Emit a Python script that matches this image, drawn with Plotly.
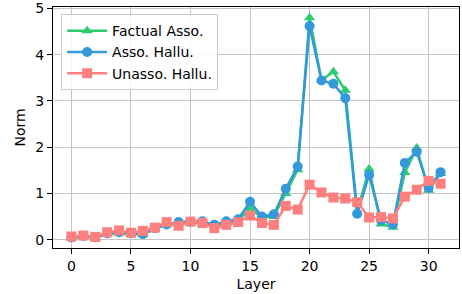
import plotly.graph_objects as go

layers = list(range(32))

factual_asso = [0.04, 0.07, 0.04, 0.13, 0.14, 0.13, 0.11, 0.24, 0.32, 0.35,
                0.37, 0.35, 0.30, 0.36, 0.40, 0.68, 0.48, 0.50, 1.00, 1.51,
                4.80, 3.45, 3.63, 3.23, 0.60, 1.53, 0.34, 0.27, 1.45, 1.98,
                1.07, 1.43]
asso_hallu = [0.05, 0.08, 0.05, 0.14, 0.16, 0.14, 0.12, 0.25, 0.33, 0.38,
              0.39, 0.40, 0.32, 0.40, 0.44, 0.82, 0.50, 0.55, 1.10, 1.58,
              4.62, 3.44, 3.37, 3.06, 0.56, 1.40, 0.42, 0.33, 1.66, 1.90,
              1.12, 1.46]
unasso_hallu = [0.07, 0.09, 0.06, 0.16, 0.20, 0.15, 0.19, 0.26, 0.38, 0.30,
                0.39, 0.36, 0.25, 0.32, 0.38, 0.52, 0.36, 0.32, 0.73, 0.65,
                1.19, 1.02, 0.91, 0.89, 0.81, 0.48, 0.49, 0.46, 0.93, 1.08,
                1.27, 1.21]

x_ticks = [0, 5, 10, 15, 20, 25, 30]
y_ticks = [0, 1, 2, 3, 4, 5]

FS = 14

fig = go.Figure()
fig.add_trace(go.Scatter(x=layers, y=factual_asso, name="Factual Asso.",
                         mode="lines+markers",
                         line=dict(color="#2ecc71", width=2.5),
                         marker=dict(symbol="triangle-up", size=10, color="#2ecc71")))
fig.add_trace(go.Scatter(x=layers, y=asso_hallu, name="Asso. Hallu.",
                         mode="lines+markers",
                         line=dict(color="#3498db", width=2.5),
                         marker=dict(symbol="circle", size=10, color="#3498db")))
fig.add_trace(go.Scatter(x=layers, y=unasso_hallu, name="Unasso. Hallu.",
                         mode="lines+markers",
                         line=dict(color="#ff7f7f", width=2.5),
                         marker=dict(symbol="square", size=10, color="#ff7f7f")))

axis_common = dict(showline=True, linecolor="black", linewidth=1, mirror=True,
                   ticks="outside", ticklen=5, tickcolor="black",
                   showgrid=True, gridcolor="#c4c4c4", gridwidth=1,
                   zeroline=False, automargin=False,
                   tickfont=dict(size=FS, color="black"))

fig.update_xaxes(range=[-1.55, 32.55], tickvals=x_ticks,
                 title=dict(text="Layer", font=dict(size=FS, color="black"), standoff=6),
                 **axis_common)
fig.update_yaxes(range=[-0.18, 5.03], tickvals=y_ticks,
                 title=dict(text="Norm", font=dict(size=FS, color="black"), standoff=6),
                 **axis_common)

fig.update_layout(
    width=462, height=294,
    margin=dict(l=53, r=3, t=7, b=46, autoexpand=False),
    paper_bgcolor="white", plot_bgcolor="white",
    font=dict(family="DejaVu Sans", size=FS, color="black"),
    showlegend=True,
    legend=dict(x=0.02, y=0.97, xanchor="left", yanchor="top",
                bgcolor="rgba(255,255,255,0.85)", bordercolor="#cccccc", borderwidth=1,
                font=dict(size=FS), itemwidth=40, tracegroupgap=0),
)

fig.write_html("out.html",
               config={"displayModeBar": False, "staticPlot": True},
               post_script="document.body.style.margin='0';document.body.style.overflow='hidden';")
